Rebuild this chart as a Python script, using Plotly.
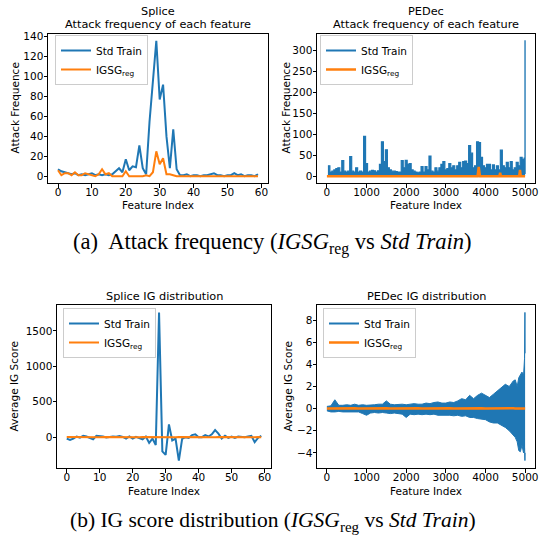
import plotly.graph_objects as go

# ---------------- data ----------------
splice_idx = list(range(60))
splice_std_freq = [7, 5, 4, 3, 2, 3, 1, 2, 1, 2, 3, 1, 2, 1, 2, 1, 2, 5, 8, 4,
                   17, 6, 10, 9, 31, 8, 2, 55, 95, 136, 77, 92, 40, 8, 47, 7, 1, 1, 2, 0,
                   1, 1, 0, 1, 1, 2, 3, 1, 1, 0, 1, 1, 3, 1, 2, 0, 1, 1, 0, 2]
splice_igsg_freq = [6, 1, 3, 3, 1, 4, 1, 1, 3, 2, 1, 0, 2, 7, 2, 3, 0, 0, 0, 0,
                    5, 0, 0, 0, 0, 0, 1, 0, 4, 25, 12, 18, 2, 2, 1, 0, 0, 0, 0, 0,
                    0, 0, 0, 0, 0, 0, 0, 0, 0, 0, 0, 0, 0, 0, 0, 0, 0, 0, 0, 0]

# PEDec attack frequency, read as the per-bin maximum (bins of 50 features)
pedec_bin_idx = [25, 75, 125, 175, 225, 275, 325, 375, 425, 475,
                 525, 575, 625, 675, 725, 775, 825, 875, 925, 975,
                 1025, 1075, 1125, 1175, 1225, 1275, 1325, 1375, 1425, 1475,
                 1525, 1575, 1625, 1675, 1725, 1775, 1825, 1875, 1925, 1975,
                 2025, 2075, 2125, 2175, 2225, 2275, 2325, 2375, 2425, 2475,
                 2525, 2575, 2625, 2675, 2725, 2775, 2825, 2875, 2925, 2975,
                 3025, 3075, 3125, 3175, 3225, 3275, 3325, 3375, 3425, 3475,
                 3525, 3575, 3625, 3675, 3725, 3775, 3825, 3875, 3925, 3975,
                 4025, 4075, 4125, 4175, 4225, 4275, 4325, 4375, 4425, 4475,
                 4525, 4575, 4625, 4675, 4725, 4775, 4825, 4875, 4925, 4975,
                 4990, 4996, 4999]
pedec_std_freq = [25, 10, 12, 15, 18, 20, 10, 37, 12, 10,
                  12, 47, 12, 10, 20, 10, 12, 10, 95, 30,
                  10, 12, 14, 13, 10, 13, 28, 82, 35, 63,
                  20, 15, 12, 12, 11, 10, 10, 37, 20, 38,
                  28, 30, 15, 12, 10, 8, 10, 23, 10, 23,
                  15, 48, 12, 10, 20, 12, 20, 28, 35, 15,
                  18, 30, 20, 25, 15, 25, 33, 20, 35, 36,
                  30, 73, 55, 20, 25, 82, 80, 45, 25, 20,
                  28, 28, 15, 27, 15, 25, 15, 62, 25, 20,
                  33, 20, 35, 15, 20, 33, 25, 45, 40, 43,
                  38, 323, 5]
pedec_igsg_idx = [0, 3800, 3830, 3860, 4350, 4370, 4390, 4850, 4870, 4890, 4999]
pedec_igsg_freq = [0, 0, 22, 0, 0, 8, 0, 0, 15, 0, 0]

splice_std_ig = [-20, -40, -20, 10, -5, 20, 10, -10, -30, 20,
                 20, 10, -5, 5, 10, 5, 15, 5, -20, 10,
                 -20, 5, -15, -30, 10, -80, -20, -110, 1760, -200,
                 -250, 180, -45, -20, -330, -25, 0, -10, 30, 40,
                 0, 0, 30, 10, 40, 100, 50, -20, 20, -10,
                 10, -10, 10, 0, 0, 10, 20, -70, -10, 20]
splice_igsg_ig = [1, 0, 1, 0, 0, 1, 0, 0, 1, 0,
                  0, 1, 0, 0, 1, 0, 0, 1, 0, 0,
                  1, 0, 0, 1, 0, 0, 1, 2, 3, 1,
                  0, 1, 0, 0, 1, 0, 0, 1, 0, 0,
                  1, 0, 0, 1, 0, 0, 1, 0, 0, 1,
                  0, 0, 1, 0, 0, 1, 0, 0, 1, 0]

pedec_ig_idx = [0, 100, 200, 300, 400, 500, 600, 700, 800, 900,
                1000, 1100, 1200, 1300, 1400, 1500, 1600, 1700, 1800, 1900,
                2000, 2100, 2200, 2300, 2400, 2500, 2600, 2700, 2800, 2900,
                3000, 3100, 3200, 3300, 3400, 3500, 3600, 3700, 3800, 3900,
                4000, 4100, 4200, 4300, 4400, 4500, 4600, 4700, 4750, 4800,
                4840, 4880, 4920, 4960, 4985, 4995, 4999]
pedec_ig_upper = [0.2, 0.25, 0.8, 0.3, 0.3, 0.35, 0.3, 0.4, 0.3, 0.35,
                  0.3, 0.3, 0.35, 0.4, 0.4, 0.7, 0.4, 0.35, 0.4, 0.4,
                  0.35, 0.4, 0.45, 0.4, 0.4, 0.5, 0.45, 0.55, 0.6, 0.5,
                  0.5, 0.6, 0.55, 0.7, 0.9, 0.8, 1.2, 0.9, 1.2, 1.4,
                  1.2, 1.0, 1.3, 1.6, 1.9, 2.2, 2.0, 2.5, 2.6, 2.0,
                  2.8, 3.1, 3.3, 3.0, 4.5, 8.7, 5.0]
pedec_ig_lower = [-0.2, -0.3, -0.3, -0.25, -0.3, -0.3, -0.3, -0.35, -0.3, -0.45,
                  -0.6, -0.4, -0.35, -0.4, -0.35, -0.4, -0.45, -0.4, -0.45, -0.5,
                  -0.8, -0.5, -0.55, -0.5, -0.55, -0.5, -0.55, -0.5, -0.6, -0.6,
                  -0.55, -0.6, -0.65, -0.6, -0.7, -0.65, -0.8, -0.8, -0.9, -0.95,
                  -1.0, -1.2, -1.3, -1.3, -1.5, -1.7, -2.0, -2.4, -2.6, -3.0,
                  -3.8, -3.9, -3.3, -4.0, -3.5, -4.7, -4.0]
pedec_igsg_ig = [0.02, 0.03, 0.02, 0.03, 0.02, 0.03, 0.02, 0.03, 0.02, 0.03,
                 0.02, 0.03, 0.02, 0.03, 0.02, 0.03, 0.02, 0.03, 0.02, 0.03,
                 0.02, 0.03, 0.02, 0.03, 0.02, 0.03, 0.02, 0.03, 0.02, 0.03,
                 0.02, 0.03, 0.02, 0.03, 0.02, 0.03, 0.02, 0.03, 0.02, 0.03,
                 0.02, 0.03, 0.02, 0.03, 0.02, 0.03, 0.02, 0.03, 0.02, 0.03,
                 0.02, 0.03, 0.02, 0.03, 0.02, 0.03, 0.02]

LBL_STD = "Std Train"
LBL_IGSG = "IGSG<sub>reg</sub>"

# ---------------- style ----------------
BLUE = "#1f77b4"
ORANGE = "#ff7f0e"
FONT = "DejaVu Sans"
TICK_SIZE = 10.5
TITLE_SIZE = 11.3
W, H = 540, 543

def px_x(p):
    return p / W

def px_y(p):
    return 1 - p / H

fig = go.Figure()

# --- top-left: Splice attack frequency
fig.add_trace(go.Scatter(x=splice_idx, y=splice_std_freq, mode="lines", name=LBL_STD,
                         line=dict(color=BLUE, width=2), xaxis="x", yaxis="y", legend="legend"))
fig.add_trace(go.Scatter(x=splice_idx, y=splice_igsg_freq, mode="lines", name=LBL_IGSG,
                         line=dict(color=ORANGE, width=2), xaxis="x", yaxis="y", legend="legend"))

# --- top-right: PEDec attack frequency (dense lines rendered as filled envelope)
fig.add_trace(go.Scatter(x=pedec_bin_idx, y=pedec_std_freq, mode="lines", fill="tozeroy",
                         fillcolor=BLUE, line=dict(color=BLUE, width=1.2, shape="hv"),
                         showlegend=False, xaxis="x2", yaxis="y2"))
fig.add_trace(go.Scatter(x=[None], y=[None], mode="lines", name=LBL_STD,
                         line=dict(color=BLUE, width=2), xaxis="x2", yaxis="y2", legend="legend2"))
fig.add_trace(go.Scatter(x=pedec_igsg_idx, y=pedec_igsg_freq, mode="lines", name=LBL_IGSG,
                         line=dict(color=ORANGE, width=2.5), xaxis="x2", yaxis="y2", legend="legend2"))

# --- bottom-left: Splice IG distribution
fig.add_trace(go.Scatter(x=splice_idx, y=splice_std_ig, mode="lines", name=LBL_STD,
                         line=dict(color=BLUE, width=2), xaxis="x3", yaxis="y3", legend="legend3"))
fig.add_trace(go.Scatter(x=splice_idx, y=splice_igsg_ig, mode="lines", name=LBL_IGSG,
                         line=dict(color=ORANGE, width=2), xaxis="x3", yaxis="y3", legend="legend3"))

# --- bottom-right: PEDec IG distribution (band between envelopes)
fig.add_trace(go.Scatter(x=pedec_ig_idx, y=pedec_ig_lower, mode="lines",
                         line=dict(color=BLUE, width=1), showlegend=False, xaxis="x4", yaxis="y4"))
fig.add_trace(go.Scatter(x=pedec_ig_idx, y=pedec_ig_upper, mode="lines", fill="tonexty",
                         fillcolor=BLUE, line=dict(color=BLUE, width=1), showlegend=False,
                         xaxis="x4", yaxis="y4"))
fig.add_trace(go.Scatter(x=[None], y=[None], mode="lines", name=LBL_STD,
                         line=dict(color=BLUE, width=2), xaxis="x4", yaxis="y4", legend="legend4"))
fig.add_trace(go.Scatter(x=pedec_ig_idx, y=pedec_igsg_ig, mode="lines", name=LBL_IGSG,
                         line=dict(color=ORANGE, width=2.5), xaxis="x4", yaxis="y4", legend="legend4"))

# ---------------- axes ----------------
def axis(domain, rng, tickvals, anchor, standoff):
    return dict(domain=domain, range=rng, tickvals=tickvals, anchor=anchor,
                showline=True, linecolor="black", linewidth=1, mirror=True,
                ticks="outside", ticklen=3.5, tickcolor="black", tickwidth=1,
                ticklabelstandoff=standoff,
                showgrid=False, zeroline=False, automargin=False,
                tickfont=dict(family=FONT, size=TICK_SIZE, color="black"))

top_dom = [px_y(183), px_y(34)]
bot_dom = [px_y(468), px_y(305)]
tl_x = [px_x(48), px_x(268)]
tr_x = [px_x(317), px_x(535)]
bl_x = [px_x(57), px_x(271)]
br_x = [px_x(317), px_x(535)]

fig.update_layout(
    xaxis=axis(tl_x, [-2.95, 61.95], [0, 10, 20, 30, 40, 50, 60], "y", -4),
    yaxis=axis(top_dom, [-6.8, 142.8], [0, 20, 40, 60, 80, 100, 120, 140], "x", -2),
    xaxis2=axis(tr_x, [-250, 5249], [0, 1000, 2000, 3000, 4000, 5000], "y2", -4),
    yaxis2=axis(top_dom, [-16.2, 339.2], [0, 50, 100, 150, 200, 250, 300], "x2", -2),
    xaxis3=axis(bl_x, [-2.95, 61.95], [0, 10, 20, 30, 40, 50, 60], "y3", -4),
    yaxis3=axis(bot_dom, [-434.5, 1864.5], [0, 500, 1000, 1500], "x3", -2),
    xaxis4=axis(br_x, [-250, 5249], [0, 1000, 2000, 3000, 4000, 5000], "y4", -4),
    yaxis4=axis(bot_dom, [-5.37, 9.37], [-4, -2, 0, 2, 4, 6, 8], "x4", -2),
)

def legend(x, y):
    return dict(x=x, y=y, xanchor="left", yanchor="top", bgcolor="white",
                bordercolor="#cccccc", borderwidth=1, tracegroupgap=0,
                traceorder="normal",
                font=dict(family=FONT, size=TICK_SIZE, color="black"))

fig.update_layout(
    legend=legend(px_x(55), px_y(35)),
    legend2=legend(px_x(320), px_y(35)),
    legend3=legend(px_x(63), px_y(308)),
    legend4=legend(px_x(323), px_y(308)),
)

# ---------------- texts ----------------
ann = []
def text(x, y, s, size=TICK_SIZE, angle=0, family=FONT):
    ann.append(dict(x=px_x(x), y=px_y(y), xref="paper", yref="paper", text=s,
                    showarrow=False, xanchor="center", yanchor="middle", textangle=angle,
                    font=dict(family=family, size=size, color="black")))

# subplot titles
text(158, 12, "Splice", TITLE_SIZE)
text(158, 24, "Attack frequency of each feature", TITLE_SIZE)
text(426, 12, "PEDec", TITLE_SIZE)
text(426, 24, "Attack frequency of each feature", TITLE_SIZE)
text(164, 296, "Splice IG distribution", TITLE_SIZE)
text(426, 296, "PEDec IG distribution", TITLE_SIZE)
# axis titles
text(158, 205, "Feature Index")
text(426, 205, "Feature Index")
text(164, 491, "Feature Index")
text(426, 491, "Feature Index")
text(14, 108.5, "Attack Frequence", angle=-90)
text(285, 108.5, "Attack Frequence", angle=-90)
text(13, 386.5, "Average IG Score", angle=-90)
text(287, 386.5, "Average IG Score", angle=-90)
# captions
text(272, 243, "(a)&nbsp; Attack frequency (<i>IGSG</i><sub>reg</sub> vs <i>Std Train</i>)",
     22.6, family="Liberation Serif")
text(273, 521, "(b) IG score distribution (<i>IGSG</i><sub>reg</sub> vs <i>Std Train</i>)",
     21.5, family="Liberation Serif")

fig.update_layout(
    width=W, height=H, margin=dict(l=0, r=0, t=0, b=0),
    paper_bgcolor="white", plot_bgcolor="white",
    annotations=ann, font=dict(family=FONT, color="black"),
)

fig.write_html("out.html", config={"displayModeBar": False},
               post_script="document.body.style.margin='0px';")
